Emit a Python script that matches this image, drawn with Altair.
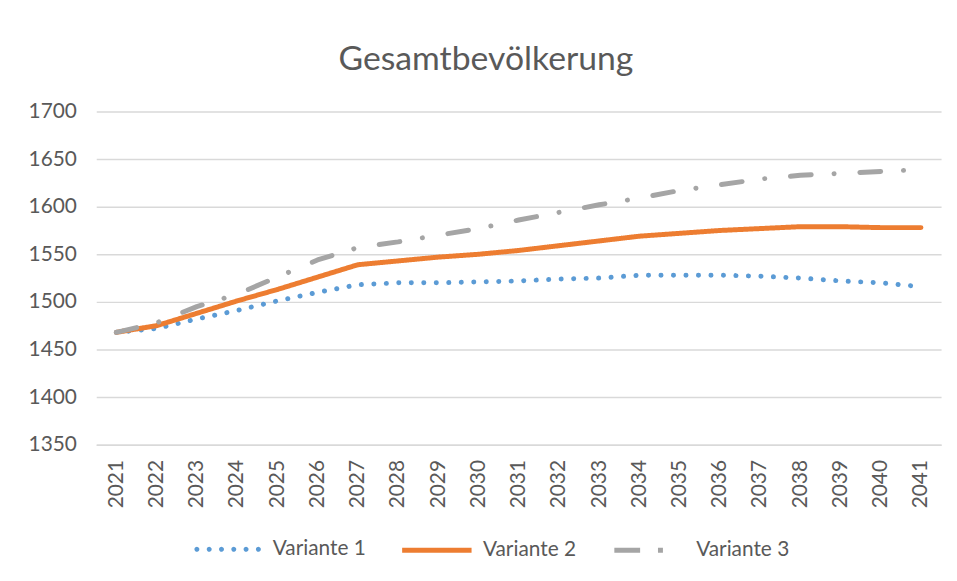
import altair as alt
import pandas as pd

years = ["2021", "2022", "2023", "2024", "2025", "2026", "2027", "2028", "2029", "2030",
         "2031", "2032", "2033", "2034", "2035", "2036", "2037", "2038", "2039", "2040", "2041"]

variante_1 = [1468, 1472, 1482, 1491, 1501, 1510, 1518, 1520, 1520, 1521,
              1522, 1524, 1525, 1528, 1528, 1528, 1527, 1525, 1522, 1520, 1516]
variante_2 = [1468, 1475, 1488, 1501, 1513, 1526, 1539, 1543, 1547, 1550,
              1554, 1559, 1564, 1569, 1572, 1575, 1577, 1579, 1579, 1578, 1578]
variante_3 = [1468, 1478, 1495, 1508, 1526, 1544, 1557, 1563, 1570, 1577,
              1586, 1594, 1602, 1609, 1617, 1623, 1629, 1633, 1635, 1637, 1639]

series_names = ["Variante 1", "Variante 2", "Variante 3"]
series_colors = ["#5B9BD5", "#ED7D31", "#A5A5A5"]
series_dashes = [[0.1, 12.5], [1, 0], [21, 23, 0.1, 26]]
y_ticks = [1350, 1400, 1450, 1500, 1550, 1600, 1650, 1700]

rows = []
for name, vals in zip(series_names, [variante_1, variante_2, variante_3]):
    for yr, v in zip(years, vals):
        rows.append({"Jahr": yr, "Wert": v, "Variante": name})
df = pd.DataFrame(rows)

FONT = "Lato"
TXT = "#595959"
GRID = "#D9D9D9"

# legend symbol for the dotted series: six small discs (unit coordinates, scaled by 35px)
r = 0.0357
dot_xs = [-0.886, -0.531, -0.177, 0.177, 0.531, 0.886]
dot_path = " ".join(
    f"M{cx - r:.4f},0 a{r},{r} 0 1,0 {2 * r:.4f},0 a{r},{r} 0 1,0 {-2 * r:.4f},0" for cx in dot_xs
)

legend_common = dict(
    title=None, orient="none", direction="horizontal", legendY=405,
    symbolSize=4900, labelFont=FONT, labelFontSize=21, labelColor=TXT, padding=0,
)
legend_specs = [
    dict(legendX=96, symbolType=dot_path, symbolStrokeWidth=2.5, symbolDash=[1, 0], labelOffset=9),
    dict(legendX=306, symbolType="stroke", symbolStrokeWidth=5, symbolDash=[1, 0], labelOffset=9),
    dict(legendX=520, symbolType="stroke", symbolStrokeWidth=5, symbolDash=[26, 18, 5, 21], labelOffset=10),
]

x_enc = alt.X("Jahr:O", sort=years, title=None,
              axis=alt.Axis(labelAngle=-90, labelFont=FONT, labelFontSize=21, labelColor=TXT,
                            ticks=False, tickSize=0, labelPadding=15, domainColor=GRID,
                            domainWidth=1.5, grid=False))
y_enc = alt.Y("Wert:Q", title=None,
              scale=alt.Scale(domain=[1350, 1700], nice=False, zero=False),
              axis=alt.Axis(values=y_ticks, format="d", labelFont=FONT, labelFontSize=21,
                            labelColor=TXT, ticks=False, tickSize=0, labelPadding=20,
                            domain=False, gridColor=GRID, gridWidth=1.5))

layers = []
for i, name in enumerate(series_names):
    layers.append(
        alt.Chart(df).transform_filter(alt.datum.Variante == name).mark_line(
            strokeWidth=5, strokeCap="round", strokeJoin="round", strokeDash=series_dashes[i]
        ).encode(
            x=x_enc,
            y=y_enc,
            color=alt.Color("Variante:N",
                            scale=alt.Scale(domain=[name], range=[series_colors[i]]),
                            legend=alt.Legend(**legend_common, **legend_specs[i])),
        )
    )

chart = alt.layer(*layers).resolve_scale(color="independent").resolve_legend(color="independent").properties(
    width=852,
    height=336,
    title=alt.TitleParams("Gesamtbevölkerung", font=FONT, fontSize=34, fontWeight="normal",
                          color=TXT, anchor="middle", dx=-33, offset=24),
    autosize=alt.AutoSizeParams(type="none"),
    padding={"left": 89, "top": 102, "right": 8, "bottom": 120},
).configure(background="white").configure_view(stroke=None)

chart.save("out.html", embed_options={"renderer": "svg", "actions": False})
